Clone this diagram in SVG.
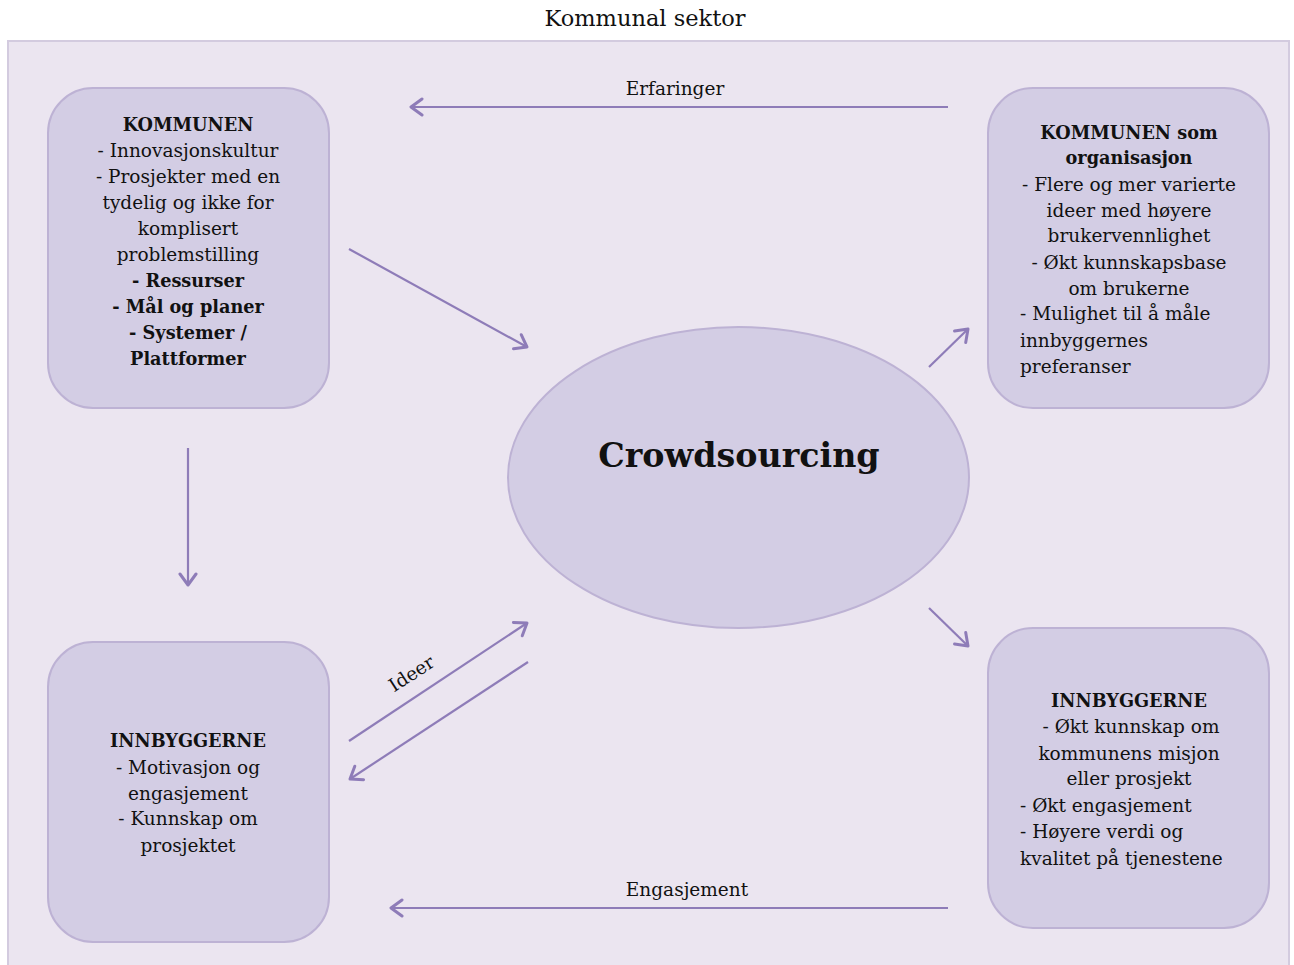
<svg xmlns="http://www.w3.org/2000/svg" width="1294" height="965" viewBox="0 0 1294 965">
<defs>
<style>
text{font-family:"DejaVu Serif","Liberation Serif",serif;fill:#111;}
.t{font-size:18.5px;}
.c{text-anchor:middle;}
.b{font-weight:bold;font-size:17.7px;}
.box{fill:#d3cde4;stroke:#bdb2d4;stroke-width:2;}
.con{stroke:#8e7cb8;stroke-width:2.2;fill:none;}
</style>
<marker id="ah" viewBox="0 0 20 20" refX="17" refY="10" markerWidth="20" markerHeight="20" markerUnits="userSpaceOnUse" orient="auto">
<path d="M6 2 L17 10 L6 18" fill="none" stroke="#8e7cb8" stroke-width="3" stroke-linecap="round" stroke-linejoin="round"/>
</marker>
</defs>
<rect width="1294" height="965" fill="#ffffff"/>
<text x="645" y="26" class="c" style="font-size:22.5px">Kommunal sektor</text>
<rect x="8" y="41" width="1281" height="930" fill="#ebe5f0" stroke="#d3cbdf" stroke-width="2"/>

<g id="connectors">
<line class="con" x1="948" y1="107" x2="411" y2="107" marker-end="url(#ah)"/>
<text x="675" y="95" class="c t">Erfaringer</text>
<line class="con" x1="948" y1="908" x2="391" y2="908" marker-end="url(#ah)"/>
<text x="687" y="896" class="c t">Engasjement</text>
<line class="con" x1="188" y1="448" x2="188" y2="585" marker-end="url(#ah)"/>
<line class="con" x1="349" y1="249" x2="527" y2="347" marker-end="url(#ah)"/>
<line class="con" x1="929" y1="367" x2="968" y2="329" marker-end="url(#ah)"/>
<line class="con" x1="929" y1="608" x2="968" y2="646" marker-end="url(#ah)"/>
<line class="con" x1="349" y1="741" x2="527" y2="623" marker-end="url(#ah)"/>
<line class="con" x1="528" y1="662" x2="350" y2="779" marker-end="url(#ah)"/>
<text x="0" y="0" class="c t" transform="translate(415,679) rotate(-33)">Ideer</text>
</g>

<g id="crowdsourcing">
<ellipse cx="738.5" cy="477.5" rx="230.5" ry="150.5" fill="#d3cde4" stroke="#bdb2d4" stroke-width="2"/>
<text x="739" y="467" class="c" style="font-size:33.3px;font-weight:bold">Crowdsourcing</text>
</g>

<g id="kommunen">
<rect class="box" x="48" y="88" width="281" height="320" rx="45"/>
<text class="t c"><tspan x="188" y="131" class="b">KOMMUNEN</tspan><tspan x="188" y="157">- Innovasjonskultur</tspan><tspan x="188" y="183">- Prosjekter med en</tspan><tspan x="188" y="209">tydelig og ikke for</tspan><tspan x="188" y="235">komplisert</tspan><tspan x="188" y="261">problemstilling</tspan><tspan x="188" y="287" class="b">- Ressurser</tspan><tspan x="188" y="313" class="b">- Mål og planer</tspan><tspan x="188" y="339" class="b">- Systemer /</tspan><tspan x="188" y="365" class="b">Plattformer</tspan></text>
</g>

<g id="kommunen-org">
<rect class="box" x="988" y="88" width="281" height="320" rx="45"/>
<text class="t c"><tspan x="1129" y="139" class="b">KOMMUNEN som</tspan><tspan x="1129" y="164" class="b">organisasjon</tspan><tspan x="1129" y="191">- Flere og mer varierte</tspan><tspan x="1129" y="217">ideer med høyere</tspan><tspan x="1129" y="242">brukervennlighet</tspan><tspan x="1129" y="269">- Økt kunnskapsbase</tspan><tspan x="1129" y="295">om brukerne</tspan></text>
<text class="t"><tspan x="1020" y="320">- Mulighet til å måle</tspan><tspan x="1020" y="347">innbyggernes</tspan><tspan x="1020" y="373">preferanser</tspan></text>
</g>

<g id="innbyggerne-venstre">
<rect class="box" x="48" y="642" width="281" height="300" rx="45"/>
<text class="t c"><tspan x="188" y="747" class="b">INNBYGGERNE</tspan><tspan x="188" y="774">- Motivasjon og</tspan><tspan x="188" y="800">engasjement</tspan><tspan x="188" y="825">- Kunnskap om</tspan><tspan x="188" y="852">prosjektet</tspan></text>
</g>

<g id="innbyggerne-hoyre">
<rect class="box" x="988" y="628" width="281" height="300" rx="45"/>
<text class="t c"><tspan x="1129" y="707" class="b">INNBYGGERNE</tspan><tspan x="1131" y="733">- Økt kunnskap om</tspan><tspan x="1129" y="760">kommunens misjon</tspan><tspan x="1129" y="785">eller prosjekt</tspan></text>
<text class="t"><tspan x="1020" y="812">- Økt engasjement</tspan><tspan x="1020" y="838">- Høyere verdi og</tspan><tspan x="1020" y="865">kvalitet på tjenestene</tspan></text>
</g>
</svg>
